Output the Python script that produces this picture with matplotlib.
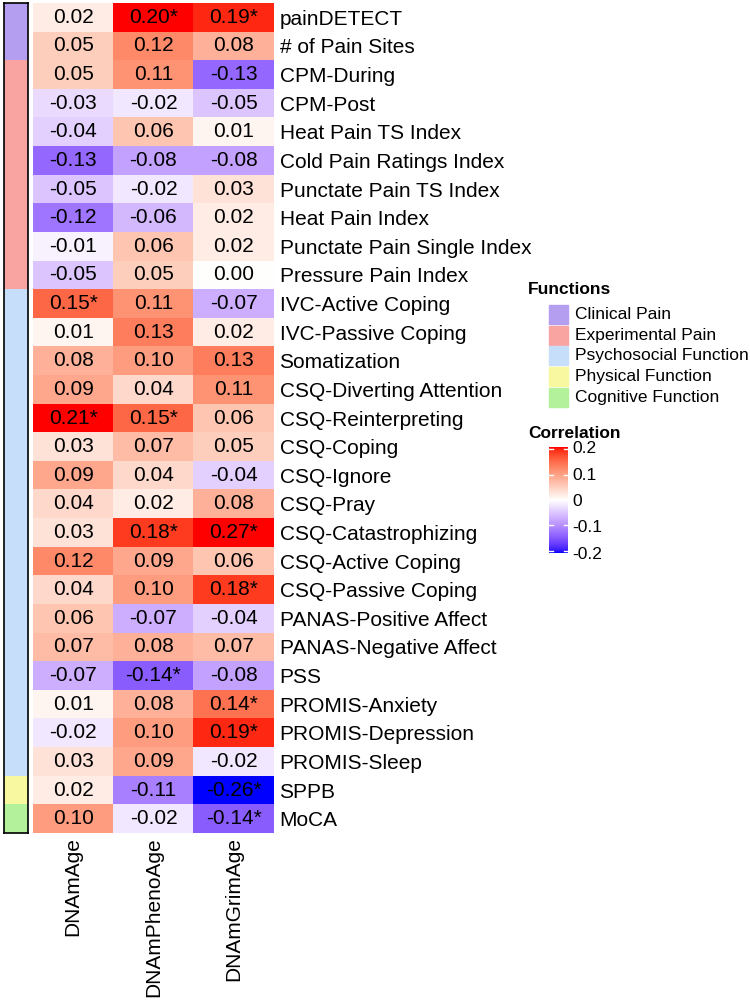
import numpy as np
import matplotlib.pyplot as plt
from matplotlib.colors import ListedColormap, Normalize
from matplotlib.patches import Rectangle

plt.rcParams['font.family'] = ['Liberation Sans', 'DejaVu Sans']

# ---- data ----
clocks = ["DNAmAge", "DNAmPhenoAge", "DNAmGrimAge"]
measures = ["painDETECT", "# of Pain Sites", "CPM-During", "CPM-Post",
            "Heat Pain TS Index", "Cold Pain Ratings Index", "Punctate Pain TS Index",
            "Heat Pain Index", "Punctate Pain Single Index", "Pressure Pain Index",
            "IVC-Active Coping", "IVC-Passive Coping", "Somatization",
            "CSQ-Diverting Attention", "CSQ-Reinterpreting", "CSQ-Coping", "CSQ-Ignore",
            "CSQ-Pray", "CSQ-Catastrophizing", "CSQ-Active Coping", "CSQ-Passive Coping",
            "PANAS-Positive Affect", "PANAS-Negative Affect", "PSS", "PROMIS-Anxiety",
            "PROMIS-Depression", "PROMIS-Sleep", "SPPB", "MoCA"]
corr = np.array([
    [0.02, 0.20, 0.19], [0.05, 0.12, 0.08], [0.05, 0.11, -0.13], [-0.03, -0.02, -0.05],
    [-0.04, 0.06, 0.01], [-0.13, -0.08, -0.08], [-0.05, -0.02, 0.03], [-0.12, -0.06, 0.02],
    [-0.01, 0.06, 0.02], [-0.05, 0.05, 0.00], [0.15, 0.11, -0.07], [0.01, 0.13, 0.02],
    [0.08, 0.10, 0.13], [0.09, 0.04, 0.11], [0.21, 0.15, 0.06], [0.03, 0.07, 0.05],
    [0.09, 0.04, -0.04], [0.04, 0.02, 0.08], [0.03, 0.18, 0.27], [0.12, 0.09, 0.06],
    [0.04, 0.10, 0.18], [0.06, -0.07, -0.04], [0.07, 0.08, 0.07], [-0.07, -0.14, -0.08],
    [0.01, 0.08, 0.14], [-0.02, 0.10, 0.19], [0.03, 0.09, -0.02], [0.02, -0.11, -0.26],
    [0.10, -0.02, -0.14]])
signif = np.zeros_like(corr, dtype=bool)
for r, c in [(0, 1), (0, 2), (10, 0), (14, 0), (14, 1), (18, 1), (18, 2), (20, 2),
             (23, 1), (24, 2), (25, 2), (27, 2), (28, 2)]:
    signif[r, c] = True

functions = ["Clinical Pain", "Experimental Pain", "Psychosocial Function",
             "Physical Function", "Cognitive Function"]
func_counts = [2, 8, 17, 1, 1]
func_colors = ["#b39ef0", "#f9a4a0", "#c6defa", "#f8f8a0", "#b3f29a"]


# ---- blue-white-red ramp interpolated in LAB space ----
M = np.array([[0.4124, 0.3576, 0.1805], [0.2126, 0.7152, 0.0722], [0.0193, 0.1192, 0.9505]])
WP = np.array([0.95047, 1.0, 1.08883])


def srgb_to_lab(rgb):
    rgb = np.asarray(rgb, float)
    lin = np.where(rgb <= 0.04045, rgb / 12.92, ((rgb + 0.055) / 1.055) ** 2.4)
    xyz = lin @ M.T / WP
    f = np.where(xyz > 0.008856, np.cbrt(xyz), 7.787 * xyz + 16 / 116)
    return np.stack([116 * f[..., 1] - 16, 500 * (f[..., 0] - f[..., 1]),
                     200 * (f[..., 1] - f[..., 2])], -1)


def lab_to_srgb(lab):
    L, a, b = lab[..., 0], lab[..., 1], lab[..., 2]
    fy = (L + 16) / 116
    f = np.stack([fy + a / 500, fy, fy - b / 200], -1)
    xyz = np.where(f ** 3 > 0.008856, f ** 3, (f - 16 / 116) / 7.787) * WP
    lin = np.clip(xyz @ np.linalg.inv(M).T, 0, 1)
    return np.where(lin <= 0.0031308, 12.92 * lin, 1.055 * lin ** (1 / 2.4) - 0.055).clip(0, 1)


blue, white, red = srgb_to_lab([0, 0, 1]), srgb_to_lab([1, 1, 1]), srgb_to_lab([1, 0, 0])
t = np.linspace(0, 1, 256)[:, None]
lab = np.where(t < 0.5, blue + (white - blue) * (t / 0.5), white + (red - white) * ((t - 0.5) / 0.5))
cmap = ListedColormap(lab_to_srgb(lab))
norm = Normalize(-0.2, 0.2)

fig = plt.figure(figsize=(7.5, 10), dpi=100)
hm_bottom, hm_height = 0.167, 0.830

# ---- heatmap ----
ax = fig.add_axes([0.044, hm_bottom, 0.3213, hm_height])
ax.imshow(np.clip(corr, -0.2, 0.2), cmap=cmap, norm=norm, aspect='auto', interpolation='nearest')
for i in range(corr.shape[0]):
    for j in range(corr.shape[1]):
        txt = f"{corr[i, j]:.2f}" + ("*" if signif[i, j] else "")
        ax.text(j, i, txt, ha='center', va='center', fontsize=15)
ax.set_xticks(range(len(clocks)))
ax.set_xticklabels(clocks, rotation=90, fontsize=15)
ax.set_yticks(range(len(measures)))
ax.set_yticklabels(measures, fontsize=15)
ax.yaxis.tick_right()
ax.tick_params(axis='y', length=0, pad=4)
ax.tick_params(axis='x', length=0, pad=3)
for s in ax.spines.values():
    s.set_visible(False)

# ---- function annotation bar ----
ax2 = fig.add_axes([0.0053, hm_bottom, 0.032, hm_height])
start = 0
for cnt, col in zip(func_counts, func_colors):
    ax2.add_patch(Rectangle((0, start), 1, cnt, color=col, lw=0))
    start += cnt
ax2.set_xlim(0, 1)
ax2.set_ylim(sum(func_counts), 0)
ax2.set_xticks([])
ax2.set_yticks([])
for s in ax2.spines.values():
    s.set_linewidth(1.2)

# ---- legends ----
fig.text(0.704, 0.711, "Functions", fontsize=12.5, fontweight='bold', va='center')
for k, (name, col) in enumerate(zip(functions, func_colors)):
    y = 0.6855 - k * 0.0207
    fig.patches.append(Rectangle((0.732, y - 0.0095), 0.025, 0.019, color=col,
                                 transform=fig.transFigure, figure=fig))
    fig.text(0.767, y, name, fontsize=12.5, va='center')

fig.text(0.704, 0.567, "Correlation", fontsize=12.5, fontweight='bold', va='center')
cax = fig.add_axes([0.732, 0.447, 0.025, 0.106])
grad = np.linspace(0.2, -0.2, 200)[:, None]
cax.imshow(grad, cmap=cmap, norm=norm, aspect='auto', extent=[0, 1, -0.2, 0.2])
cax.set_ylim(-0.2, 0.2)
cax.set_xlim(0, 1)
cax.set_xticks([])
for v in [0.2, 0.1, -0.1, -0.2]:
    vv = v - 0.006 * np.sign(v)
    cax.plot([0, 0.2], [vv, vv], color='white', lw=1)
    cax.plot([0.8, 1], [vv, vv], color='white', lw=1)
cax.yaxis.tick_right()
cax.set_yticks([0.2, 0.1, 0, -0.1, -0.2])
cax.set_yticklabels(["0.2", "0.1", "0", "-0.1", "-0.2"], fontsize=12.5)
cax.tick_params(length=0, pad=3)
for s in cax.spines.values():
    s.set_visible(False)

fig.savefig("out.png", dpi=100)
